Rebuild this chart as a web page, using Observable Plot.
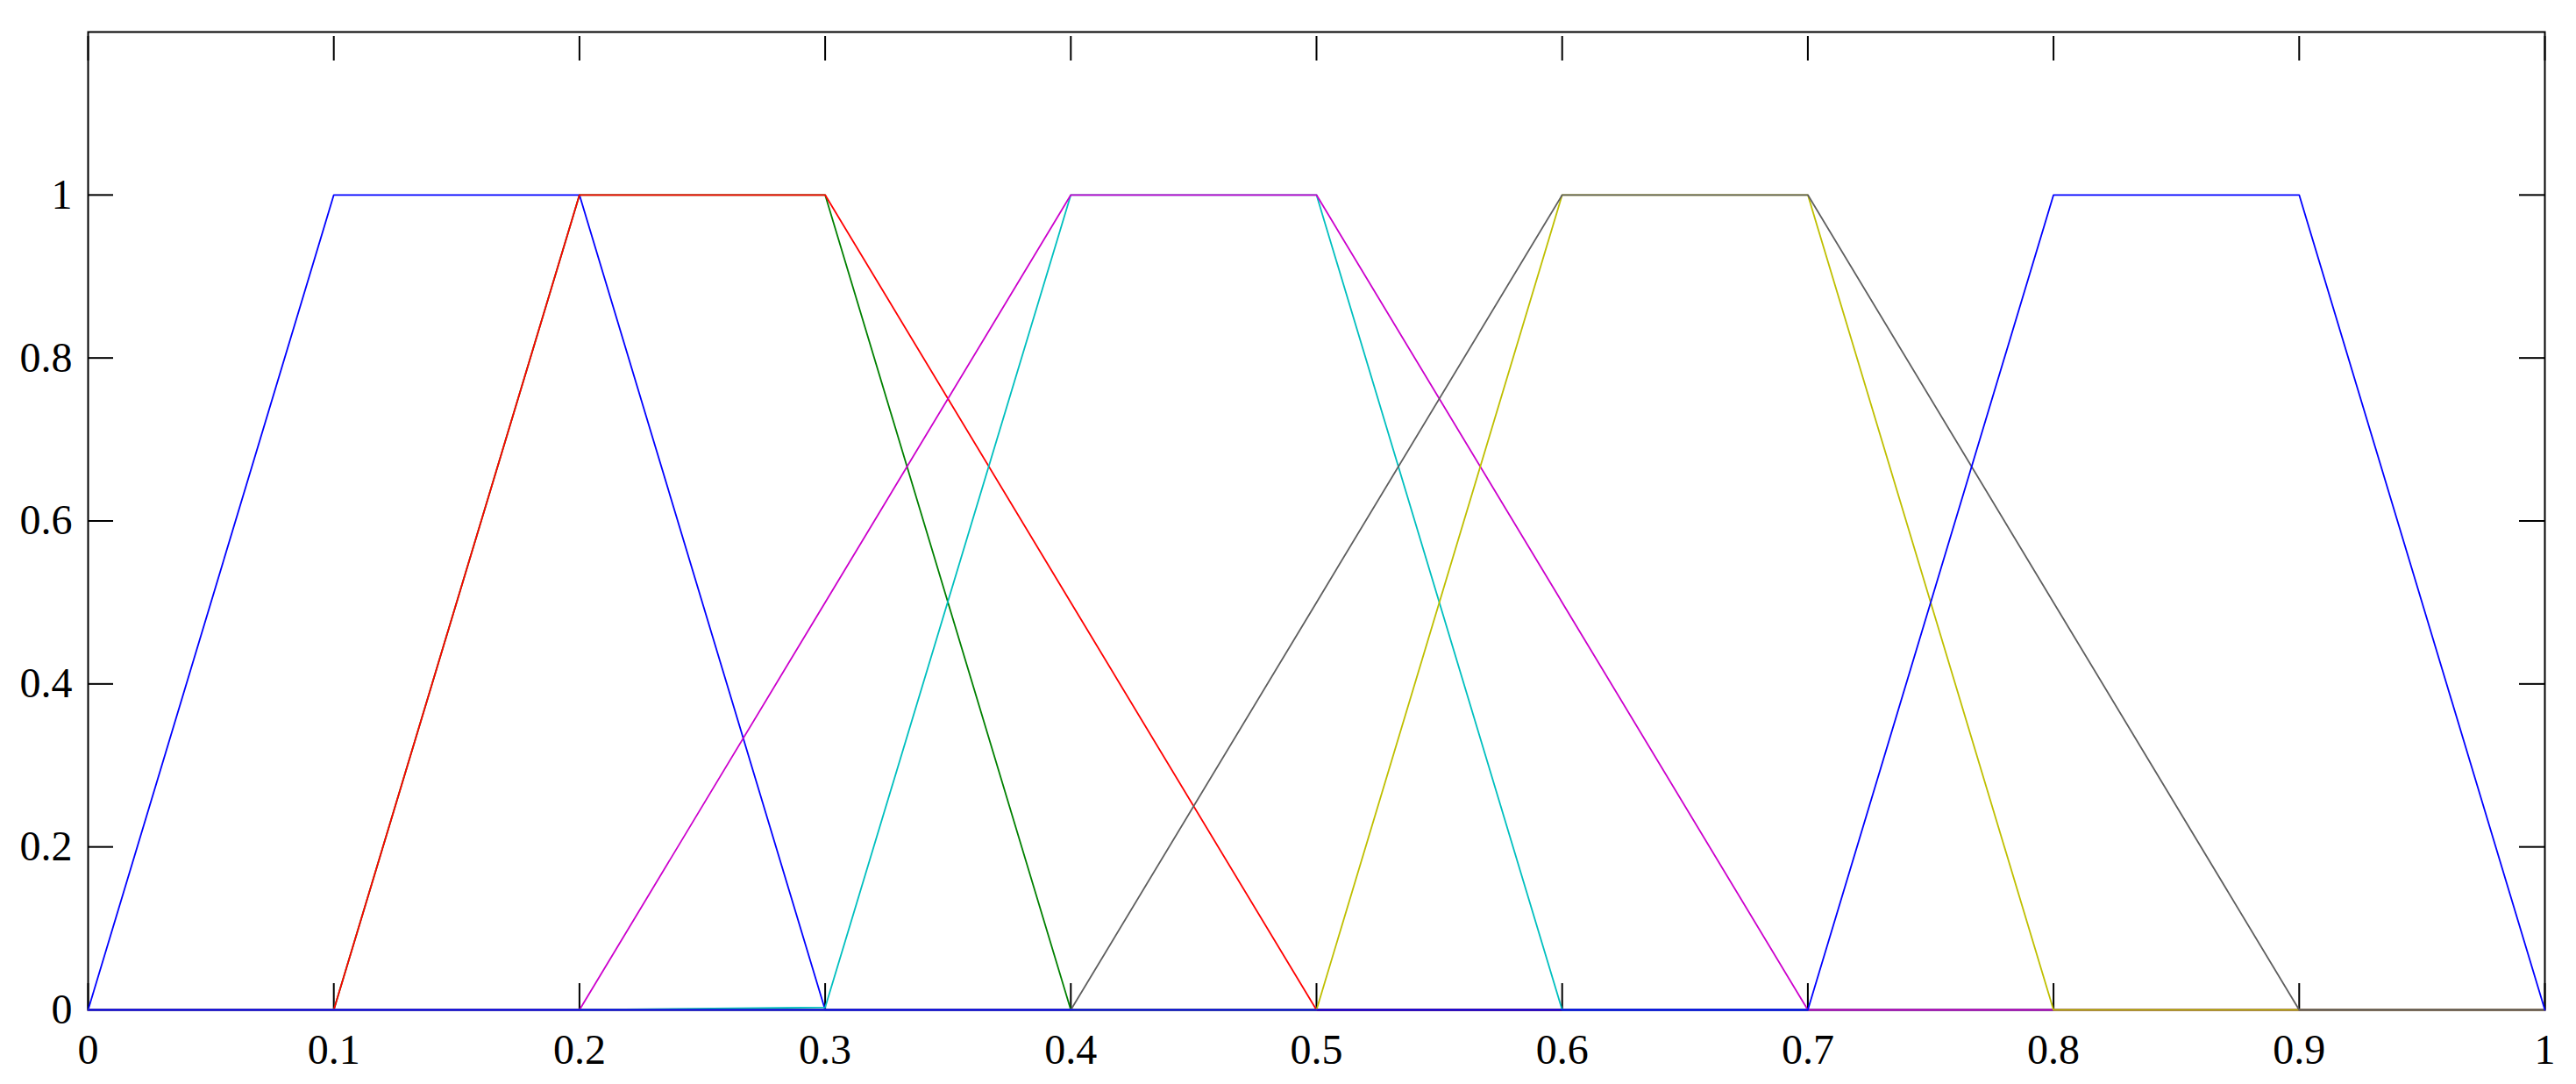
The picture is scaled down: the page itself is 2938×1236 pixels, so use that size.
<!DOCTYPE html>
<html>
<head>
<meta charset="utf-8">
<script src="https://cdn.jsdelivr.net/npm/d3@7"></script>
<script src="https://cdn.jsdelivr.net/npm/@observablehq/plot@0.6"></script>
<style>
  html, body { margin: 0; padding: 0; background: #ffffff; }
  #chart svg { display: block; }
</style>
</head>
<body>
<div id="chart"></div>
<script>
// Shared x grid (universe of discourse)
const xGrid = [0, 0.1, 0.2, 0.3, 0.4, 0.5, 0.6, 0.7, 0.8, 0.9, 1];

// Membership values of each series on xGrid, in drawing order
const blue1   = [0, 1, 1, 0,     0,   0,   0,   0,   0,   0, 0];
const green   = [0, 0, 1, 1,     0,   0,   0,   0,   0,   0, 0];
const red     = [0, 0, 1, 1,     0.5, 0,   0,   0,   0,   0, 0];
const cyan    = [0, 0, 0, 0.003, 1,   1,   0,   0,   0,   0, 0];
const magenta = [0, 0, 0, 0.5,   1,   1,   0.5, 0,   0,   0, 0];
const yellow  = [0, 0, 0, 0,     0,   0,   1,   1,   0,   0, 0];
const black   = [0, 0, 0, 0,     0,   0.5, 1,   1,   0.5, 0, 0];
const blue2   = [0, 0, 0, 0,     0,   0,   0,   0,   1,   1, 0];

const seriesValues = [blue1, green, red, cyan, magenta, yellow, black, blue2];
const seriesColors = ["#0000ff", "#008000", "#ff0000", "#00bfbf", "#cc00cc", "#bfbf00", "#5f5f5f", "#0000ff"];

// Tick values
const xTicks = [0, 0.1, 0.2, 0.3, 0.4, 0.5, 0.6, 0.7, 0.8, 0.9, 1];
const yTicks = [0, 0.2, 0.4, 0.6, 0.8, 1];

const lineMarks = seriesValues.map((vals, i) =>
  Plot.line(xGrid.map((x, j) => ({x, y: vals[j]})), {
    x: "x", y: "y", stroke: seriesColors[i], strokeWidth: 1.8
  })
);

const fmt = d => String(d);

const chart = Plot.plot({
  width: 2938,
  height: 1236,
  marginLeft: 100,
  marginRight: 36,
  marginTop: 36,
  marginBottom: 85,
  style: {fontFamily: "'Liberation Serif', 'DejaVu Serif', serif", fontSize: "48px", color: "#000", background: "#fff"},
  x: {domain: [0, 1]},
  y: {domain: [0, 1.2]},
  marks: [
    Plot.frame({stroke: "#000", strokeWidth: 2}),
    Plot.axisX({anchor: "bottom", ticks: xTicks, tickFormat: fmt, tickSize: -30, tickPadding: 57, strokeWidth: 2, label: null, fill: "#000"}),
    Plot.axisX({anchor: "top", ticks: xTicks, tickFormat: () => "", tickSize: -28, insetTop: 4, strokeWidth: 2, label: null}),
    Plot.axisY({anchor: "left", ticks: yTicks, tickFormat: fmt, tickSize: -29, tickPadding: 47, strokeWidth: 2, label: null, fill: "#000"}),
    Plot.axisY({anchor: "right", ticks: yTicks, tickFormat: () => "", tickSize: -30, strokeWidth: 2, label: null}),
    ...lineMarks
  ]
});

document.getElementById("chart").appendChild(chart);
</script>
</body>
</html>
